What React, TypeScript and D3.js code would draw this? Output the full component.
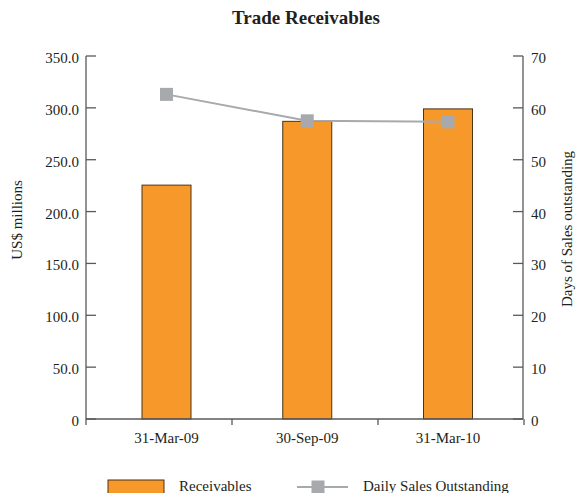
import React from "react";
import * as d3 from "d3";

const categories = ["31-Mar-09", "30-Sep-09", "31-Mar-10"];
const receivables = [225.5, 287.0, 299.0];
const daysOutstanding = [62.6, 57.5, 57.3];
const leftTicks = [0, 50, 100, 150, 200, 250, 300, 350];
const rightTicks = [0, 10, 20, 30, 40, 50, 60, 70];

const W = 576;
const H = 493;
const left = 86;
const right = 523;
const top = 56;
const bottom = 419;

const FONT = "Liberation Serif, Times New Roman, serif";
const AXIS = "#58595b";
const ORANGE = "#f7992a";
const GREY = "#a7a9ac";
const TEXT = "#231f20";

export default function App() {
  const yL = d3.scaleLinear().domain([0, 350]).range([bottom, top]);
  const yR = d3.scaleLinear().domain([0, 70]).range([bottom, top]);
  // category boundaries for the x-axis tick marks
  const band = d3.scaleBand<string>().domain(categories).range([left, right + 1]);
  // centres of the marks within each category
  const xc = d3.scalePoint<string>().domain(categories).range([166.5, 448]);
  const barW = 49;

  const line = d3
    .line<number>()
    .x((_, i) => xc(categories[i])!)
    .y((d) => yR(d));

  const boundaries = [...categories.map((c) => band(c)!), right + 1];
  const txt = { fontFamily: FONT, fill: TEXT } as const;

  return (
    <svg
      width={W}
      height={H}
      style={{ position: "absolute", left: 0, top: 0, background: "#fff" }}
    >
      <text x={306} y={24} textAnchor="middle" fontSize={19} fontWeight="bold" {...txt}>
        Trade Receivables
      </text>

      {/* bars */}
      {receivables.map((v, i) => (
        <rect
          key={categories[i]}
          x={xc(categories[i])! - barW / 2}
          y={yL(v)}
          width={barW}
          height={bottom - yL(v)}
          fill={ORANGE}
          stroke="#4d3217"
          strokeWidth={1}
        />
      ))}

      {/* left axis */}
      <line x1={left} x2={left} y1={top} y2={bottom} stroke={AXIS} strokeWidth={1.3} />
      {leftTicks.map((t) => (
        <g key={t}>
          <line x1={left} x2={left + 10} y1={yL(t)} y2={yL(t)} stroke={AXIS} strokeWidth={1.3} />
          <text x={79} y={yL(t) + 7} textAnchor="end" fontSize={15} {...txt}>
            {t === 0 ? "0" : t.toFixed(1)}
          </text>
        </g>
      ))}

      {/* right axis */}
      <line x1={right} x2={right} y1={top} y2={bottom} stroke={AXIS} strokeWidth={1.3} />
      {rightTicks.map((t) => (
        <g key={t}>
          <line x1={right - 10} x2={right} y1={yR(t)} y2={yR(t)} stroke={AXIS} strokeWidth={1.3} />
          <text x={531} y={yR(t) + 7} textAnchor="start" fontSize={15} {...txt}>
            {t}
          </text>
        </g>
      ))}

      {/* x axis */}
      <line x1={left} x2={right} y1={bottom} y2={bottom} stroke={AXIS} strokeWidth={1.3} />
      {boundaries.map((b, i) => (
        <line key={i} x1={b} x2={b} y1={bottom} y2={bottom + 6} stroke={AXIS} strokeWidth={1.3} />
      ))}
      {categories.map((c) => (
        <text key={c} x={xc(c)!} y={443} textAnchor="middle" fontSize={15} {...txt}>
          {c}
        </text>
      ))}

      {/* days of sales outstanding */}
      <path d={line(daysOutstanding) ?? ""} fill="none" stroke={GREY} strokeWidth={2} />
      {daysOutstanding.map((v, i) => (
        <rect
          key={i}
          x={xc(categories[i])! - 6.5}
          y={yR(v) - 6.5}
          width={13}
          height={13}
          fill={GREY}
        />
      ))}

      {/* axis titles */}
      <text transform="translate(22, 220) rotate(-90)" textAnchor="middle" fontSize={15} {...txt}>
        US$ millions
      </text>
      <text transform="translate(572, 229) rotate(-90)" textAnchor="middle" fontSize={15} {...txt}>
        Days of Sales outstanding
      </text>

      {/* legend */}
      <rect x={108} y={480} width={56} height={14} fill={ORANGE} stroke="#4d3217" strokeWidth={1} />
      <text x={179} y={491} fontSize={15} {...txt}>
        Receivables
      </text>
      <line x1={297} x2={348} y1={487} y2={487} stroke={GREY} strokeWidth={2} />
      <rect x={311.5} y={480.5} width={13} height={13} fill={GREY} />
      <text x={363} y={491} fontSize={15} {...txt}>
        Daily Sales Outstanding
      </text>
    </svg>
  );
}
